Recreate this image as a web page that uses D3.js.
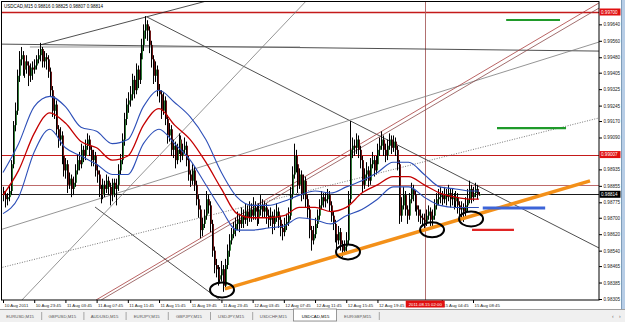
<!DOCTYPE html>
<html>
<head>
<meta charset="utf-8">
<script src="https://cdn.jsdelivr.net/npm/d3@7"></script>
<style>
body { margin: 0; background: #fff; }
svg { display: block; }
text { font-family: "Liberation Sans", Arial, sans-serif; }
</style>
</head>
<body>
<script>
// USDCAD M15, one value per bar (open = previous close)
var firstOpen = 0.9883;
var closes = [
 .9881,.9879,.9880,.9883,.9896,.9915,.9922,.9939,.9947,.9949,
 .9942,.9946,.9944,.9939,.9943,.9942,.9944,.9947,.9949,.9952,
 .9946,.9948,.9947,.9941,.9932,.9922,.9925,.9913,.9908,.9910,
 .9900,.9893,.9896,.9886,.9889,.9884,.9887,.9893,.9898,.9896,
 .9903,.9900,.9905,.9908,.9903,.9898,.9900,.9893,.9891,.9884,
 .9881,.9886,.9884,.9888,.9885,.9881,.9887,.9884,.9886,.9893,
 .9898,.9908,.9918,.9925,.9927,.9930,.9937,.9932,.9942,.9937,
 .9947,.9954,.9961,.9964,.9961,.9954,.9947,.9939,.9942,.9932,
 .9930,.9922,.9927,.9918,.9910,.9913,.9903,.9905,.9898,.9903,
 .9908,.9900,.9903,.9905,.9898,.9891,.9888,.9893,.9886,.9879,
 .9874,.9864,.9867,.9871,.9879,.9876,.9867,.9854,.9847,.9845,
 .9840,.9842,.9845,.9837,.9847,.9854,.9859,.9862,.9864,.9867,
 .9869,.9867,.9871,.9869,.9873,.9870,.9874,.9871,.9875,.9873,
 .9870,.9874,.9876,.9873,.9875,.9871,.9869,.9871,.9867,.9870,
 .9873,.9869,.9865,.9863,.9867,.9868,.9871,.9881,.9891,.9900,
 .9896,.9886,.9891,.9881,.9888,.9879,.9874,.9864,.9859,.9862,
 .9867,.9871,.9876,.9880,.9878,.9879,.9881,.9876,.9871,.9867,
 .9862,.9859,.9863,.9857,.9854,.9856,.9859,.9879,.9903,.9905,
 .9904,.9908,.9903,.9898,.9886,.9891,.9893,.9888,.9896,.9898,
 .9893,.9896,.9903,.9905,.9908,.9903,.9900,.9905,.9908,.9904,
 .9907,.9903,.9896,.9871,.9876,.9881,.9874,.9871,.9879,.9884,
 .9881,.9876,.9874,.9871,.9870,.9869,.9868,.9871,.9873,.9869,
 .9871,.9876,.9879,.9880,.9881,.9879,.9881,.9880,.9882,.9879,
 .9880,.9878,.9880,.9876,.9874,.9875,.9873,.9876,.9879,.9884,
 .9880,.9882,.9884,.9881,.98814];
var highs = [
 .9885,.9883,.9882,.9886,.9898,.9917,.9926,.9942,.9951,.9953,
 .9951,.9948,.9949,.9946,.9945,.9946,.9947,.9949,.9952,.9955,
 .9953,.9951,.9950,.9949,.9943,.9934,.9929,.9927,.9915,.9914,
 .9912,.9902,.9899,.9898,.9892,.9891,.9890,.9896,.9901,.9902,
 .9906,.9905,.9908,.9911,.9910,.9905,.9903,.9902,.9896,.9893,
 .9886,.9889,.9888,.9891,.9890,.9887,.9889,.9889,.9889,.9896,
 .9901,.9911,.9921,.9928,.9931,.9934,.9940,.9939,.9945,.9944,
 .9950,.9957,.9964,.9968,.9966,.9963,.9956,.9949,.9946,.9944,
 .9935,.9932,.9931,.9929,.9920,.9916,.9915,.9908,.9907,.9906,
 .9911,.9910,.9906,.9909,.9907,.9900,.9893,.9896,.9895,.9888,
 .9881,.9876,.9870,.9874,.9883,.9881,.9878,.9869,.9856,.9850,
 .9847,.9846,.9849,.9847,.9850,.9857,.9862,.9865,.9868,.9870,
 .9873,.9872,.9875,.9874,.9877,.9876,.9878,.9877,.9880,.9878,
 .9876,.9877,.9881,.9879,.9878,.9877,.9874,.9875,.9873,.9874,
 .9877,.9875,.9871,.9867,.9870,.9872,.9875,.9885,.9895,.9906,
 .9903,.9898,.9894,.9893,.9891,.9890,.9881,.9876,.9866,.9866,
 .9870,.9874,.9879,.9883,.9882,.9882,.9884,.9883,.9878,.9873,
 .9869,.9864,.9866,.9865,.9859,.9859,.9863,.9883,.9917,.9909,
 .9908,.9911,.9910,.9905,.9900,.9894,.9897,.9895,.9899,.9902,
 .9900,.9900,.9906,.9909,.9912,.9910,.9906,.9908,.9911,.9910,
 .9910,.9909,.9905,.9898,.9880,.9885,.9883,.9876,.9882,.9887,
 .9886,.9883,.9878,.9876,.9874,.9872,.9872,.9874,.9876,.9875,
 .9874,.9879,.9882,.9884,.9885,.9883,.9885,.9884,.9886,.9884,
 .9884,.9882,.9883,.9882,.9878,.9878,.9877,.9880,.9884,.9888,
 .9886,.9885,.9887,.9886,.98825];
var lows = [
 .9878,.9875,.9876,.9878,.9881,.9894,.9912,.9920,.9936,.9944,
 .9939,.9938,.9940,.9934,.9936,.9937,.9940,.9942,.9945,.9946,
 .9943,.9943,.9942,.9938,.9929,.9919,.9918,.9910,.9904,.9905,
 .9896,.9890,.9889,.9882,.9884,.9880,.9881,.9885,.9891,.9893,
 .9894,.9897,.9898,.9903,.9900,.9895,.9895,.9890,.9887,.9880,
 .9877,.9879,.9880,.9882,.9881,.9876,.9878,.9880,.9876,.9883,
 .9891,.9896,.9905,.9915,.9921,.9924,.9927,.9928,.9930,.9933,
 .9935,.9945,.9951,.9957,.9956,.9950,.9943,.9935,.9936,.9929,
 .9926,.9918,.9920,.9915,.9906,.9907,.9900,.9899,.9894,.9896,
 .9901,.9897,.9898,.9901,.9895,.9888,.9885,.9886,.9883,.9876,
 .9870,.9860,.9861,.9865,.9869,.9872,.9863,.9851,.9843,.9841,
 .9837,.9838,.9839,.9834,.9835,.9845,.9851,.9857,.9860,.9861,
 .9864,.9863,.9865,.9865,.9867,.9866,.9868,.9868,.9869,.9869,
 .9866,.9867,.9871,.9870,.9870,.9867,.9865,.9866,.9862,.9864,
 .9868,.9865,.9861,.9859,.9861,.9864,.9866,.9869,.9879,.9889,
 .9892,.9882,.9884,.9878,.9879,.9875,.9870,.9860,.9854,.9857,
 .9860,.9865,.9869,.9874,.9875,.9875,.9877,.9873,.9868,.9864,
 .9858,.9855,.9857,.9854,.9851,.9852,.9853,.9857,.9877,.9899,
 .9900,.9901,.9899,.9894,.9882,.9884,.9888,.9885,.9886,.9894,
 .9890,.9891,.9894,.9900,.9903,.9900,.9897,.9898,.9903,.9901,
 .9902,.9900,.9893,.9867,.9868,.9874,.9871,.9867,.9869,.9877,
 .9878,.9873,.9871,.9868,.9867,.9866,.9865,.9866,.9869,.9866,
 .9865,.9869,.9874,.9876,.9877,.9876,.9877,.9876,.9878,.9875,
 .9876,.9874,.9875,.9872,.9870,.9870,.9868,.9870,.9873,.9877,
 .9877,.9878,.9880,.9879,.98807];

// moving average + bands, read every 8 bars
var maBars = [0,8,16,24,32,40,48,56,64,72,80,88,96,104,112,120,128,136,144,152,160,168,176,184,192,200,208,216,224,232,240,244];
var maUpper = [.9892,.9906,.9924,.9929,.9924,.9914,.9912,.9906,.9908,.9924,.9932,.9926,.9919,.9908,.9892,.9880,
               .9876,.9876,.9878,.9881,.9883,.9882,.9885,.9888,.9892,.9897,.9897,.9891,.9885,.9884,.9883,.9883];
var maMid   = [.9881,.9893,.9911,.9921,.9916,.9907,.9904,.9898,.9900,.9915,.9923,.9915,.9908,.9897,.9884,.9872,
               .9870,.9870,.9871,.9875,.9875,.9873,.9875,.9882,.9886,.9890,.9890,.9886,.9882,.9880,.9879,.9879];
var maLower = [.9872,.9880,.9902,.9913,.9904,.9900,.9896,.9891,.9891,.9906,.9913,.9906,.9898,.9886,.9874,.9864,
               .9864,.9865,.9866,.9870,.9869,.9867,.9871,.9874,.9879,.9885,.9885,.9880,.9876,.9875,.9875,.9875];

// axis labels
var priceTicks = [0.99640,0.99560,0.99480,0.99405,0.99325,0.99245,0.99170,0.99090,0.98935,0.98855,
                  0.98775,0.98700,0.98620,0.98540,0.98465,0.98385,0.98305];
var timeTickBars = [0,16,32,48,64,80,96,112,128,144,160,176,192,225,241];
var timeTickText = ["10 Aug 2011","10 Aug 23:45","11 Aug 03:45","11 Aug 07:45","11 Aug 11:45","11 Aug 15:45",
                    "11 Aug 19:45","11 Aug 23:45","12 Aug 03:45","12 Aug 07:45","12 Aug 11:45","12 Aug 15:45",
                    "12 Aug 19:45","15 Aug 04:45","15 Aug 08:45"];
var tabNames = ["EURUSD,M15","GBPUSD,M15","AUDUSD,M15","EURJPY,M15","GBPJPY,M15","USDJPY,M15","USDCHF,M15","USDCAD,M15","EURGBP,M15"];

// drawn objects: price levels, trendlines [bar, price], marks
var levelRed = [0.99700, 0.99007];
var levelThin = 0.98858;
var bidPrice = 0.98814;
var vlineBar = 216.5;
var trendPoints = [
  [[19, 0.99540], [106.2, 0.99758]],
  [[73.8, 0.99676], [305.6, 0.98553]],
  [[-1.5, 0.99544], [305.6, 0.99510]],
  [[47.2, 0.98752], [111.3, 0.98300]]
];
var greyPoints = [
  [[13.8, 0.99530], [152.3, 0.99530]],
  [[9.7, 0.98300], [155.9, 0.99758]],
  [[-1.5, 0.98641], [305.6, 0.99554]]
];
var channelPoints = [
  [[47.7, 0.98300], [305.6, 0.99744]],
  [[50.3, 0.98300], [305.6, 0.99719]]
];
var dottedPoints = [[-1.5, 0.98456], [305.6, 0.99185]];
var orangePoints = [[113.8, 0.98354], [301, 0.98879]];
var ringBars = [112.3, 176.9, 220, 240];
var ringPrices = [0.98349, 0.98534, 0.98641, 0.98694];
var segBars = [[258, 285.6], [253.3, 288.7], [246, 278], [240.5, 262]];
var segPrices = [0.99661, 0.99136, 0.98747, 0.98641];
var segColors = ["#1f9a2a", "#1f9a2a", "#3c64d8", "#e02424"];

var W = 625, H = 322;
var x = d3.scaleLinear().domain([0, 305.6]).range([3, 599]);
var y = d3.scaleLinear().domain([0.98305, 0.99700]).range([299, 12]);

var svg = d3.select("body").append("svg").attr("width", W).attr("height", H);
svg.append("rect").attr("width", W).attr("height", H).attr("fill", "#fff");

svg.append("clipPath").attr("id", "pc")
   .append("rect").attr("x", 1).attr("y", 1).attr("width", 598).attr("height", 299);
var g = svg.append("g").attr("clip-path", "url(#pc)");

var seg = d3.line().x(function(d) { return x(d[0]); }).y(function(d) { return y(d[1]); });

// horizontal levels
g.selectAll(".lvl").data(levelRed).enter().append("line")
  .attr("x1", 0).attr("x2", 599)
  .attr("y1", function(d) { return Math.round(y(d)) + 0.5; })
  .attr("y2", function(d) { return Math.round(y(d)) + 0.5; })
  .attr("stroke", "#c41a1a").attr("stroke-width", function(d, i) { return i ? 1.2 : 1.6; });
g.append("line").attr("x1", 0).attr("x2", 599)
  .attr("y1", Math.round(y(levelThin)) + 0.5).attr("y2", Math.round(y(levelThin)) + 0.5)
  .attr("stroke", "#b85a5a").attr("stroke-width", 0.9);
g.append("line").attr("x1", 0).attr("x2", 599)
  .attr("y1", Math.round(y(bidPrice)) + 0.5).attr("y2", Math.round(y(bidPrice)) + 0.5)
  .attr("stroke", "#000").attr("stroke-width", 0.9);
g.append("line").attr("x1", Math.round(x(vlineBar)) + 0.5).attr("x2", Math.round(x(vlineBar)) + 0.5)
  .attr("y1", 0).attr("y2", 300).attr("stroke", "#a86060").attr("stroke-width", 0.9);

// trendlines
g.selectAll(".tl").data(trendPoints).enter().append("path")
  .attr("d", seg).attr("fill", "none").attr("stroke", "#222").attr("stroke-width", 0.8);
g.selectAll(".gl").data(greyPoints).enter().append("path")
  .attr("d", seg).attr("fill", "none").attr("stroke", "#7a7a7a").attr("stroke-width", 0.8);
g.selectAll(".ch").data(channelPoints).enter().append("path")
  .attr("d", seg).attr("fill", "none").attr("stroke", function(d, i) { return i ? "#8a4a4a" : "#a83c3c"; })
  .attr("stroke-width", 0.8);
g.append("path").attr("d", seg(dottedPoints)).attr("fill", "none")
  .attr("stroke", "#555").attr("stroke-width", 0.8).attr("stroke-dasharray", "1,1.5");

// candles
var bars = closes.map(function(c, i) {
  return { i: i, o: i ? closes[i - 1] : firstOpen, h: highs[i], l: lows[i], c: c };
});
g.selectAll(".wick").data(bars).enter().append("line")
  .attr("x1", function(d) { return Math.round(x(d.i)) + 0.5; })
  .attr("x2", function(d) { return Math.round(x(d.i)) + 0.5; })
  .attr("y1", function(d) { return y(d.h); })
  .attr("y2", function(d) { return y(d.l); })
  .attr("stroke", "#000").attr("stroke-width", 1);
g.selectAll(".body").data(bars).enter().append("rect")
  .attr("x", function(d) { return Math.round(x(d.i)) + 1; })
  .attr("width", 1)
  .attr("y", function(d) { return y(Math.max(d.o, d.c)); })
  .attr("height", function(d) { return Math.max(1, Math.abs(y(d.o) - y(d.c))); })
  .attr("fill", function(d) { return d.c >= d.o ? "#2f7a36" : "#6e1616"; });

// bands and average
function maLine(vals) {
  return d3.line().curve(d3.curveMonotoneX)
    .x(function(d, i) { return x(maBars[i]); })
    .y(function(d) { return y(d); })(vals);
}
g.append("path").attr("d", maLine(maUpper)).attr("fill", "none").attr("stroke", "#2d4fb8").attr("stroke-width", 1.1);
g.append("path").attr("d", maLine(maLower)).attr("fill", "none").attr("stroke", "#2d4fb8").attr("stroke-width", 1.1);
g.append("path").attr("d", maLine(maMid)).attr("fill", "none").attr("stroke", "#c40000").attr("stroke-width", 1.3);

// orange support, rings, short levels
g.append("path").attr("d", seg(orangePoints)).attr("fill", "none")
  .attr("stroke", "#f39019").attr("stroke-width", 3.5);
g.selectAll(".ring").data(ringBars).enter().append("ellipse")
  .attr("cx", function(d) { return x(d); })
  .attr("cy", function(d, i) { return y(ringPrices[i]); })
  .attr("rx", 12).attr("ry", 7.5)
  .attr("fill", "none").attr("stroke", "#000").attr("stroke-width", 2);
g.selectAll(".seg").data(segBars).enter().append("line")
  .attr("x1", function(d) { return x(d[0]); })
  .attr("x2", function(d) { return x(d[1]); })
  .attr("y1", function(d, i) { return y(segPrices[i]); })
  .attr("y2", function(d, i) { return y(segPrices[i]); })
  .attr("stroke", function(d, i) { return segColors[i]; })
  .attr("stroke-width", function(d, i) { return i == 2 ? 3 : 2.2; });

// frame
svg.append("rect").attr("x", 1.5).attr("y", 1.5).attr("width", 597.5).attr("height", 298.5)
  .attr("fill", "none").attr("stroke", "#000").attr("stroke-width", 1);

// title
svg.append("text").attr("x", 4).attr("y", 7.5).attr("font-size", 4.5).attr("fill", "#000")
  .text("USDCAD,M15  0.98816 0.98825 0.98807 0.98814");

// price axis
var ya = svg.append("g").attr("transform", "translate(599,0)")
  .call(d3.axisRight(y).tickValues(priceTicks).tickFormat(d3.format(".5f")).tickSize(3).tickPadding(1.5));
ya.select(".domain").remove();
ya.selectAll("text").attr("font-size", 4.6).attr("font-family", "Liberation Sans, Arial, sans-serif").attr("fill", "#222");
ya.selectAll("line").attr("stroke", "#000");

var boxes = [[levelRed[0], "#e01010", "#fff"], [levelRed[1], "#e01010", "#fff"], [bidPrice, "#000", "#fff"]];
var bx = svg.selectAll(".pbox").data(boxes).enter().append("g");
bx.append("rect").attr("x", 599.5).attr("width", 21)
  .attr("y", function(d) { return y(d[0]) - 3.5; }).attr("height", 7)
  .attr("fill", function(d) { return d[1]; });
bx.append("text").attr("x", 601).attr("y", function(d) { return y(d[0]) + 1.6; })
  .attr("font-size", 4.6).attr("fill", function(d) { return d[2]; })
  .text(function(d) { return d3.format(".5f")(d[0]); });

// time axis
var xa = svg.append("g").attr("transform", "translate(0,300)")
  .call(d3.axisBottom(x).tickValues(timeTickBars)
    .tickFormat(function(d, i) { return timeTickText[i]; }).tickSize(3).tickPadding(1));
xa.select(".domain").remove();
xa.selectAll("text").attr("font-size", 4.3).attr("font-family", "Liberation Sans, Arial, sans-serif")
  .attr("text-anchor", "start").attr("x", 1).attr("fill", "#222");
xa.selectAll("line").attr("stroke", "#000");

svg.append("rect").attr("x", x(vlineBar) - 19.5).attr("y", 300.5).attr("width", 39).attr("height", 7)
  .attr("fill", "#e01010");
svg.append("text").attr("x", x(vlineBar)).attr("y", 305.8).attr("text-anchor", "middle")
  .attr("font-size", 4.3).attr("fill", "#fff").text("2011.08.15 02:00");

// window edge
svg.append("rect").attr("x", 621).attr("y", 0).attr("width", 4).attr("height", 309).attr("fill", "#b7cde6");
svg.append("line").attr("x1", 621.5).attr("x2", 621.5).attr("y1", 0).attr("y2", 309).attr("stroke", "#7f9db9");

// symbol tabs
svg.append("rect").attr("x", 0).attr("y", 309).attr("width", W).attr("height", 13).attr("fill", "#f0f0f0");
svg.append("line").attr("x1", 0).attr("x2", W).attr("y1", 309.5).attr("y2", 309.5).attr("stroke", "#a0a0a0");
var tabW = 42.2;
var tabs = svg.selectAll(".tab").data(tabNames).enter().append("g");
tabs.filter(function(d, i) { return i == 7; }).append("rect")
  .attr("x", function(d, i) { return 7 * tabW - 2; }).attr("y", 309).attr("width", tabW + 1).attr("height", 12)
  .attr("fill", "#fff").attr("stroke", "#808080").attr("stroke-width", 0.8);
tabs.append("text")
  .attr("x", function(d, i) { return i * tabW + tabW / 2 - 1; }).attr("y", 317.5)
  .attr("text-anchor", "middle").attr("font-size", 4.3)
  .attr("fill", function(d, i) { return i == 7 ? "#000" : "#555"; })
  .text(function(d) { return d; });
tabs.filter(function(d, i) { return i != 6 && i != 7; }).append("line")
  .attr("x1", function(d) { return (tabNames.indexOf(d) + 1) * tabW - 0.5; })
  .attr("x2", function(d) { return (tabNames.indexOf(d) + 1) * tabW - 0.5; })
  .attr("y1", 312).attr("y2", 320).attr("stroke", "#909090").attr("stroke-width", 0.8);
svg.append("text").attr("x", 612).attr("y", 318).attr("font-size", 5).attr("fill", "#666").text("\u2039");
svg.append("text").attr("x", 619).attr("y", 318).attr("font-size", 5).attr("fill", "#666").text("\u203a");
</script>
</body>
</html>
